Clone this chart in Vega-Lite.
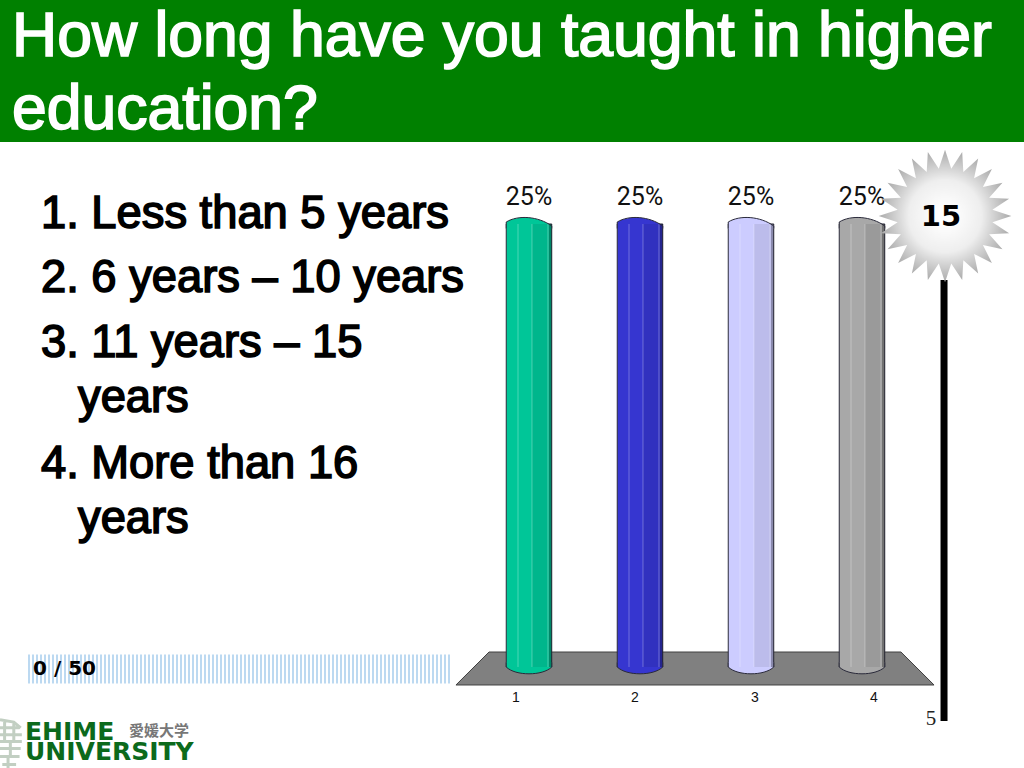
{
"$schema":"https://vega.github.io/schema/vega-lite/v6.json",
"padding":0,
"background":"white",
"config":{"view":{"stroke":null},"concat":{"spacing":0},"text":{"font":"Liberation Sans"}},
"spacing":0,
"bounds":"flush",
"vconcat":[
{
 "width":1024,"height":142,
 "view":{"fill":"#008000","stroke":null},
 "data":{"values":[{"col":0,"line":1,"label":"How long have you taught in higher"},{"col":0,"line":2,"label":"education?"}]},
 "mark":{"type":"text","align":"left","baseline":"middle","fontSize":62.5,"font":"Liberation Sans","fill":"white","stroke":"white","strokeWidth":1.7},
 "encoding":{
  "x":{"field":"col","type":"quantitative","axis":null,"scale":{"domain":[-12,1012],"nice":false,"zero":false}},
  "y":{"field":"line","type":"quantitative","axis":null,"scale":{"domain":[0.493,2.438],"nice":false,"zero":false,"reverse":true}},
  "text":{"field":"label"}
 }
},
{
 "spacing":0,
 "bounds":"flush",
 "hconcat":[
 {
  "width":450,"height":626,
  "encoding":{
   "x":{"field":"col","type":"quantitative","axis":null,"scale":{"domain":[-1.108,11.054],"nice":false,"zero":false}},
   "y":{"field":"line","type":"quantitative","axis":null,"scale":{"domain":[-0.108,9.523],"nice":false,"zero":false,"reverse":true}}
  },
  "layer":[
   {"data":{"values":[{"col":0,"line":1,"label":"1. Less than 5 years"},{"col":0,"line":1.985,"label":"2. 6 years – 10 years"},{"col":0,"line":2.985,"label":"3. 11 years – 15"},{"col":1,"line":3.83,"label":"years"},{"col":0,"line":4.846,"label":"4. More than 16"},{"col":1,"line":5.692,"label":"years"}]},
    "mark":{"type":"text","align":"left","baseline":"middle","fontSize":45.3,"font":"Liberation Sans","fill":"black","stroke":"black","strokeWidth":1.6},
    "encoding":{"text":{"field":"label"}}},
   {"data":{"values":[{"col":-0.351,"col2":11.054,"line":8.0}]},
    "mark":{"type":"rule","strokeWidth":29,"strokeDash":[2,2],"stroke":"#bcd9f1"},
    "encoding":{"x2":{"field":"col2"}}},
   {"data":{"values":[{"col":-0.216,"line":8.0,"label":"0 / 50"}]},
    "mark":{"type":"text","align":"left","baseline":"middle","fontSize":20,"fontWeight":"bold","font":"DejaVu Sans","fill":"black"},
    "encoding":{"text":{"field":"label"}}},
   {"data":{"values":[{"col":-1.108,"line":9.17}]},
    "mark":{"type":"point","clip":true,"filled":false,"fill":"transparent","opacity":1,"size":2116,"stroke":"#c2cfc2","strokeWidth":3,"shape":"M0,-1.1 L0.6,-1 L0.9,-0.75 M0,-0.75 L0.85,-0.75 M0.2,-1 L0.2,-0.2 M0.6,-1 L0.6,-0.2 M0,-0.45 L0.95,-0.45 M0,-0.15 L0.95,-0.15 M0.45,-0.15 L0.45,0.5 M0,0.15 L0.9,0.15 M0,0.5 L0.85,0.5 M0.1,0.85 L0.7,0.85 M0.35,0.5 L0.35,1.1"}},
   {"data":{"values":[{"col":-0.432,"line":8.969,"label":"EHIME"},{"col":-0.432,"line":9.277,"label":"UNIVERSITY"}]},
    "mark":{"type":"text","align":"left","baseline":"middle","fontSize":25,"fontWeight":"bold","font":"DejaVu Sans","fill":"#0c6a1c"},
    "encoding":{"text":{"field":"label"}}},
   {"data":{"values":[{"col":2.378,"line":8.954,"label":"愛媛大学"}]},
    "mark":{"type":"text","align":"left","baseline":"middle","fontSize":15,"font":"Noto Sans CJK JP","fontWeight":"bold","fill":"#777777"},
    "encoding":{"text":{"field":"label"}}}
  ]
 },
 {
  "width":574,"height":626,
  "encoding":{
   "x":{"field":"slot","type":"quantitative","axis":null,"scale":{"domain":[0.2883,5.4595],"nice":false,"zero":false,"padding":0}},
   "y":{"field":"pct","type":"quantitative","axis":null,"stack":null,"scale":{"domain":[-5.7,29.627],"nice":false,"zero":false,"padding":0}}
  },
  "layer":[
   {"data":{"values":[{"slot":0.342,"pct":-1.016,"pct2":-1.016},{"slot":0.64,"pct":0.846,"pct2":-1.016},{"slot":4.351,"pct":0.846,"pct2":-1.016},{"slot":4.649,"pct":-1.016,"pct2":-1.016}]},
    "mark":{"type":"area","fill":"#808080","stroke":"#404040","strokeWidth":1,"opacity":1},
    "encoding":{"y2":{"field":"pct2"}}},
   {"data":{"values":[{"slot":4.739,"pct":21.84,"pct2":-3.05}]},
    "mark":{"type":"rule","stroke":"black","strokeWidth":7},
    "encoding":{"y2":{"field":"pct2"}}},
   {"data":{"name":"bars","values":[{"cat":"1","slot":1,"pct":25,"label":"25%"},{"cat":"2","slot":2,"pct":25,"label":"25%"},{"cat":"3","slot":3,"pct":25,"label":"25%"},{"cat":"4","slot":4,"pct":25,"label":"25%"}]},
    "mark":{"type":"bar","size":45.5,"orient":"vertical","stroke":"#2a2a3a","strokeWidth":1},
    "encoding":{"fill":{"field":"cat","type":"nominal","legend":null,"scale":{"domain":["1","2","3","4"],"range":["#00c698","#3636d0","#ccccff","#a8a8a8"]}}}},
   {"data":{"name":"bars"},
    "mark":{"type":"point","shape":"M-1,0.2 L-1,-0.087 C-0.5,-0.4 0.4,-0.35 1,0.087 L1,0.2 Z","size":2070,"filled":true,"opacity":1,"strokeWidth":0},
    "encoding":{"fill":{"field":"cat","type":"nominal","legend":null,"scale":{"domain":["1","2","3","4"],"range":["#00c698","#3636d0","#ccccff","#a8a8a8"]}}}},
   {"data":{"values":[{"cat":"1","slot":1,"pct":0},{"cat":"2","slot":2,"pct":0},{"cat":"3","slot":3,"pct":0},{"cat":"4","slot":4,"pct":0}]},
    "mark":{"type":"point","shape":"M-1,-0.2 L-1,0 C-0.6,0.4 0.6,0.4 1,0 L1,-0.2 Z","size":2070,"filled":true,"opacity":1,"strokeWidth":0},
    "encoding":{"fill":{"field":"cat","type":"nominal","legend":null,"scale":{"domain":["1","2","3","4"],"range":["#00c698","#3636d0","#ccccff","#a8a8a8"]}}}},
   {"data":{"values":[{"slot":1.027,"slot2":1.18,"pct":25,"pct2":0},{"slot":2.027,"slot2":2.18,"pct":25,"pct2":0},{"slot":3.027,"slot2":3.18,"pct":25,"pct2":0},{"slot":4.027,"slot2":4.18,"pct":25,"pct2":0}]},
    "mark":{"type":"rect","fill":"black","opacity":0.08},
    "encoding":{"x2":{"field":"slot2"},"y2":{"field":"pct2"}}},
   {"data":{"values":[{"slot":1.18,"slot2":1.205,"pct":25,"pct2":0},{"slot":2.18,"slot2":2.205,"pct":25,"pct2":0},{"slot":3.18,"slot2":3.205,"pct":25,"pct2":0},{"slot":4.18,"slot2":4.205,"pct":25,"pct2":0}]},
    "mark":{"type":"rect","fill":"black","opacity":0.32},
    "encoding":{"x2":{"field":"slot2"},"y2":{"field":"pct2"}}},
   {"data":{"values":[{"slot":0.901,"pct":25,"pct2":0},{"slot":1.027,"pct":25,"pct2":0},{"slot":1.171,"pct":25,"pct2":0},{"slot":1.901,"pct":25,"pct2":0},{"slot":2.027,"pct":25,"pct2":0},{"slot":2.171,"pct":25,"pct2":0},{"slot":2.901,"pct":25,"pct2":0},{"slot":3.027,"pct":25,"pct2":0},{"slot":3.171,"pct":25,"pct2":0},{"slot":3.901,"pct":25,"pct2":0},{"slot":4.027,"pct":25,"pct2":0},{"slot":4.171,"pct":25,"pct2":0}]},
    "mark":{"type":"rule","stroke":"white","strokeWidth":1,"opacity":0.3},
    "encoding":{"y2":{"field":"pct2"}}},
   {"data":{"name":"bars"},
    "mark":{"type":"point","shape":"M-1,0.2 L-1,-0.087 C-0.5,-0.4 0.4,-0.35 1,0.087 L1,0.2","size":2070,"filled":false,"fill":"transparent","opacity":1,"stroke":"#2a2a3a","strokeWidth":1}},
   {"data":{"values":[{"slot":1,"pct":0},{"slot":2,"pct":0},{"slot":3,"pct":0},{"slot":4,"pct":0}]},
    "mark":{"type":"point","shape":"M-1,-0.2 L-1,0 C-0.6,0.4 0.6,0.4 1,0 L1,-0.2","size":2070,"filled":false,"fill":"transparent","opacity":1,"stroke":"#2a2a3a","strokeWidth":1}},
   {"data":{"name":"bars"},
    "mark":{"type":"text","align":"center","baseline":"bottom","dy":-14,"fontSize":25,"font":"Roboto","fill":"#111111"},
    "encoding":{"text":{"field":"label"}}},
   {"data":{"values":[{"slot":0.883,"pct":-1.749,"label":"1"},{"slot":1.955,"pct":-1.749,"label":"2"},{"slot":3.036,"pct":-1.749,"label":"3"},{"slot":4.108,"pct":-1.749,"label":"4"}]},
    "mark":{"type":"text","align":"center","baseline":"middle","fontSize":14,"font":"Liberation Sans","fill":"#111111"},
    "encoding":{"text":{"field":"label"}}},
   {"data":{"values":[{"slot":4.748,"pct":25.45}]},
    "mark":{"type":"point","shape":"M1,0 L0.714,0.094 L0.966,0.259 L0.665,0.276 L0.866,0.5 L0.571,0.438 L0.707,0.707 L0.438,0.571 L0.5,0.866 L0.276,0.665 L0.259,0.966 L0.094,0.714 L0,1 L-0.094,0.714 L-0.259,0.966 L-0.276,0.665 L-0.5,0.866 L-0.438,0.571 L-0.707,0.707 L-0.571,0.438 L-0.866,0.5 L-0.665,0.276 L-0.966,0.259 L-0.714,0.094 L-1,0 L-0.714,-0.094 L-0.966,-0.259 L-0.665,-0.276 L-0.866,-0.5 L-0.571,-0.438 L-0.707,-0.707 L-0.438,-0.571 L-0.5,-0.866 L-0.276,-0.665 L-0.259,-0.966 L-0.094,-0.714 L0,-1 L0.094,-0.714 L0.259,-0.966 L0.276,-0.665 L0.5,-0.866 L0.438,-0.571 L0.707,-0.707 L0.571,-0.438 L0.866,-0.5 L0.665,-0.276 L0.966,-0.259 L0.714,-0.094 Z","size":17600,"filled":true,"opacity":1,"strokeWidth":0,
     "fill":{"gradient":"radial","x1":0.5,"y1":0.5,"r1":0.05,"x2":0.5,"y2":0.5,"r2":0.5,"stops":[{"offset":0,"color":"#ffffff"},{"offset":0.5,"color":"#eeeeee"},{"offset":1,"color":"#aaaaaa"}]}}},
   {"data":{"values":[{"slot":4.712,"pct":25.4,"label":"15"}]},
    "mark":{"type":"text","align":"center","baseline":"middle","fontSize":29,"fontWeight":"bold","font":"DejaVu Sans","fill":"black"},
    "encoding":{"text":{"field":"label"}}},
   {"data":{"values":[{"slot":4.622,"pct":-2.93,"label":"5"}]},
    "mark":{"type":"text","align":"center","baseline":"middle","fontSize":21,"font":"Liberation Serif","fill":"#222222"},
    "encoding":{"text":{"field":"label"}}}
  ]
 }
 ]
}
]
}
